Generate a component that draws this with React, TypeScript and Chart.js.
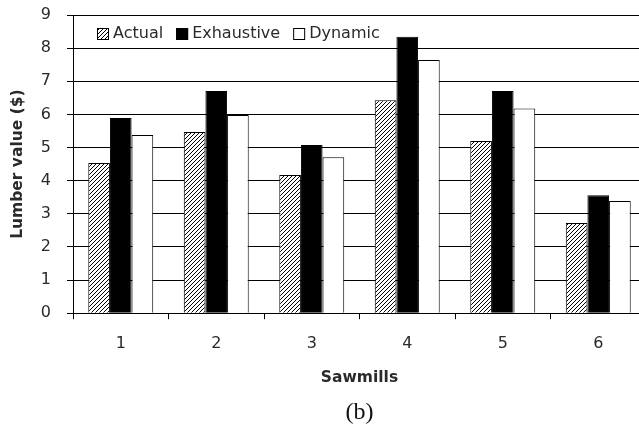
import React, { useEffect, useRef } from "react";
import { Chart, registerables } from "chart.js";

Chart.register(...registerables);

const categories = ["1", "2", "3", "4", "5", "6"];
const actualValues = [4.53, 5.47, 4.17, 6.43, 5.2, 2.72];
const exhaustiveValues = [5.89, 6.71, 5.08, 8.34, 6.71, 3.56];
const dynamicValues = [5.38, 5.98, 4.71, 7.64, 6.18, 3.39];
const seriesNames = ["Actual", "Exhaustive", "Dynamic"];
const yTitle = "Lumber value ($)";
const xTitle = "Sawmills";
const caption = "(b)";

const TEXT = "#2a2a2a";
const SANS = '"DejaVu Sans", Verdana, sans-serif';

function makeHatch(): CanvasPattern | string {
  const c = document.createElement("canvas");
  c.width = 4;
  c.height = 4;
  const p = c.getContext("2d");
  if (!p) return "#888";
  p.fillStyle = "#fff";
  p.fillRect(0, 0, 4, 4);
  p.strokeStyle = "#000";
  p.lineWidth = 1;
  p.beginPath();
  p.moveTo(0, 4);
  p.lineTo(4, 0);
  p.moveTo(-1, 1);
  p.lineTo(1, -1);
  p.moveTo(3, 5);
  p.lineTo(5, 3);
  p.stroke();
  const pat = p.createPattern(c, "repeat");
  return pat || "#888";
}

const insideLegend = {
  id: "insideLegend",
  afterDraw(chart: any) {
    const ctx = chart.ctx as CanvasRenderingContext2D;
    const { left, top } = chart.chartArea;
    ctx.save();
    ctx.font = `16px ${SANS}`;
    ctx.textBaseline = "middle";
    const box = 12;
    let x = left + 24;
    const y = top + 19;
    chart.data.datasets.forEach((ds: any) => {
      ctx.fillStyle = ds.backgroundColor;
      ctx.fillRect(x, y - box / 2, box, box);
      ctx.strokeStyle = "#000";
      ctx.lineWidth = 1;
      ctx.strokeRect(x + 0.5, y - box / 2 + 0.5, box - 1, box - 1);
      x += box + 4;
      ctx.fillStyle = TEXT;
      ctx.textAlign = "left";
      ctx.fillText(ds.label, x, y);
      x += ctx.measureText(ds.label).width + 13;
    });
    ctx.restore();
  },
};

export default function App() {
  const ref = useRef<HTMLCanvasElement | null>(null);

  useEffect(() => {
    if (!ref.current) return;
    const hatch = makeHatch();
    const chart = new Chart(ref.current, {
      type: "bar",
      data: {
        labels: categories,
        datasets: [
          {
            label: seriesNames[0],
            data: actualValues,
            backgroundColor: hatch as any,
            borderColor: "#000",
            borderWidth: 1,
          },
          {
            label: seriesNames[1],
            data: exhaustiveValues,
            backgroundColor: "#000",
            borderColor: "#000",
            borderWidth: 1,
          },
          {
            label: seriesNames[2],
            data: dynamicValues,
            backgroundColor: "#fff",
            borderColor: "#000",
            borderWidth: 1,
          },
        ],
      },
      options: {
        responsive: false,
        animation: false,
        devicePixelRatio: 1,
        layout: { padding: { left: 0, right: 1, top: 15, bottom: 0 } },
        datasets: {
          bar: { categoryPercentage: 0.68, barPercentage: 1 },
        },
        plugins: {
          legend: { display: false },
          tooltip: { enabled: false },
          title: {
            display: true,
            position: "bottom",
            fullSize: false,
            text: caption,
            color: "#111",
            font: { family: '"Liberation Serif", "DejaVu Serif", serif', size: 24, weight: "normal" },
            padding: { top: 0, bottom: 4 },
          },
        },
        scales: {
          x: {
            offset: true,
            grid: {
              display: true,
              offset: true,
              drawOnChartArea: false,
              drawTicks: true,
              tickLength: 6,
              color: "#000",
            },
            border: { display: true, color: "#000", width: 1 },
            ticks: {
              color: TEXT,
              font: { family: SANS, size: 16 },
              padding: 15,
            },
            title: {
              display: true,
              text: xTitle,
              color: TEXT,
              font: { family: SANS, size: 15.5, weight: "bold" },
              padding: { top: 4, bottom: 11 },
            },
            afterFit(scale: any) {
              scale.height = 85;
              scale.paddingTop = 0;
              scale.paddingBottom = 0;
            },
          },
          y: {
            min: 0,
            max: 9,
            ticks: {
              stepSize: 1,
              color: TEXT,
              font: { family: SANS, size: 16 },
              padding: 16,
            },
            grid: {
              color: "#000",
              lineWidth: 1,
              drawTicks: true,
              tickLength: 6,
            },
            border: { display: true, color: "#000", width: 1 },
            title: {
              display: true,
              text: yTitle,
              color: TEXT,
              font: { family: SANS, size: 15.5, weight: "bold" },
              padding: { top: 9, bottom: 0 },
            },
            afterFit(scale: any) {
              scale.width = 73;
              scale.paddingTop = 0;
              scale.paddingBottom = 0;
            },
          },
        },
      },
      plugins: [insideLegend],
    });
    return () => chart.destroy();
  }, []);

  return (
    <div
      style={{
        position: "absolute",
        left: 0,
        top: 0,
        width: 639,
        height: 431,
        overflow: "hidden",
        background: "#fff",
      }}
    >
      <canvas ref={ref} width={647} height={431} style={{ width: 647, height: 431, display: "block" }} />
    </div>
  );
}
